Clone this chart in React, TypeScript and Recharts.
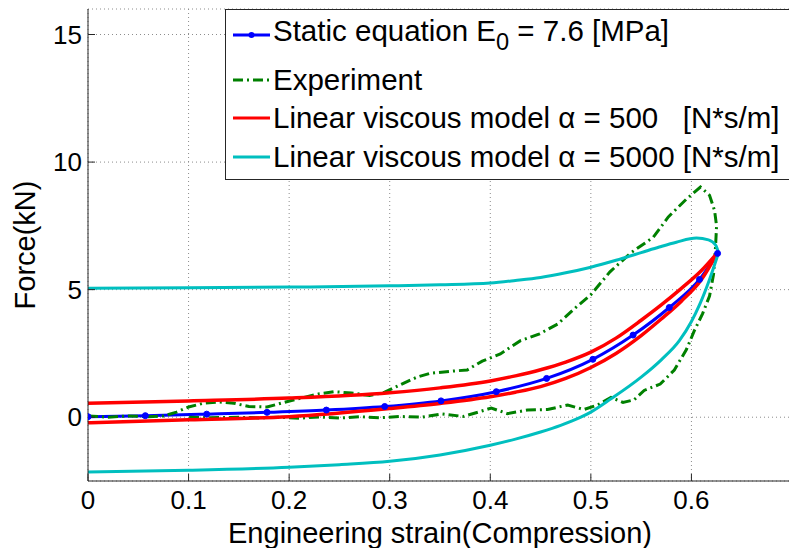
import React from 'react';
import { LineChart, Line, XAxis, YAxis, CartesianGrid } from 'recharts';

const xTicks = [0, 0.1, 0.2, 0.3, 0.4, 0.5, 0.6];
const yTicks = [0, 5, 10, 15];

// Static equation E0 = 7.6 MPa
const staticStrain = [0, 0.057, 0.118, 0.178, 0.237, 0.295, 0.351, 0.406, 0.456, 0.502, 0.542, 0.578, 0.608, 0.626];
const staticForce = [0.02, 0.06, 0.12, 0.19, 0.28, 0.42, 0.64, 1.0, 1.52, 2.27, 3.22, 4.3, 5.4, 6.42];

// Linear viscous model alpha = 500 (upper and lower branch)
const red500UpStrain = [0, 0.1, 0.2, 0.3, 0.35, 0.4, 0.425, 0.45, 0.475, 0.5, 0.525, 0.55, 0.57, 0.59, 0.61, 0.626];
const red500UpForce = [0.55, 0.64, 0.75, 0.96, 1.15, 1.42, 1.62, 1.86, 2.16, 2.55, 3.1, 3.8, 4.4, 5.05, 5.75, 6.45];
const red500DownStrain = [0, 0.1, 0.2, 0.3, 0.35, 0.4, 0.425, 0.45, 0.475, 0.5, 0.525, 0.55, 0.57, 0.59, 0.61, 0.626];
const red500DownForce = [-0.22, -0.1, 0.02, 0.34, 0.54, 0.8, 0.98, 1.2, 1.52, 1.95, 2.5, 3.2, 3.85, 4.55, 5.4, 6.45];

// Linear viscous model alpha = 5000 (upper and lower branch)
const cyan5000UpStrain = [0, 0.1, 0.2, 0.3, 0.35, 0.4, 0.425, 0.45, 0.475, 0.5, 0.525, 0.55, 0.568, 0.585, 0.605, 0.617, 0.624, 0.627];
const cyan5000UpForce = [5.05, 5.07, 5.1, 5.15, 5.19, 5.26, 5.36, 5.48, 5.66, 5.88, 6.15, 6.45, 6.67, 6.86, 7.02, 6.95, 6.75, 6.45];
const cyan5000DownStrain = [0, 0.1, 0.2, 0.25, 0.3, 0.35, 0.4, 0.425, 0.45, 0.47, 0.49, 0.5, 0.52, 0.55, 0.57, 0.588, 0.6, 0.608, 0.618, 0.627];
const cyan5000DownForce = [-2.15, -2.08, -1.96, -1.86, -1.73, -1.48, -1.1, -0.86, -0.58, -0.32, 0.0, 0.2, 0.72, 1.57, 2.25, 3.0, 3.75, 4.4, 5.4, 6.45];

// Experiment (loading then unloading, in recorded order)
const expStrain = [
  0, 0.02, 0.04, 0.06, 0.075, 0.088, 0.1, 0.115, 0.13, 0.145, 0.16, 0.178, 0.195, 0.212, 0.23, 0.245,
  0.262, 0.28, 0.295, 0.312, 0.327, 0.34, 0.36, 0.377, 0.392, 0.41, 0.43, 0.449, 0.467, 0.485, 0.5,
  0.519, 0.54, 0.562, 0.577, 0.595, 0.609, 0.618, 0.623, 0.625,
  0.624, 0.622, 0.618, 0.611, 0.603, 0.595, 0.583, 0.569, 0.553, 0.543, 0.532, 0.52, 0.507, 0.493,
  0.477, 0.457, 0.437, 0.417, 0.401, 0.388, 0.373, 0.352, 0.332, 0.31, 0.29, 0.27, 0.25, 0.23, 0.21,
  0.19, 0.17, 0.15, 0.12, 0.1,
];
const expForce = [
  0.05, 0.0, 0.05, 0.02, 0.05, 0.2, 0.4, 0.55, 0.6, 0.55, 0.42, 0.4, 0.58, 0.75, 0.92, 1.0,
  0.95, 0.85, 0.98, 1.3, 1.57, 1.72, 1.8, 1.85, 2.2, 2.48, 3.0, 3.27, 3.65, 4.3, 4.8,
  5.7, 6.45, 7.05, 7.85, 8.55, 9.02, 8.7, 8.1, 7.5,
  6.7, 5.6, 4.75, 4.05, 3.4, 2.65, 1.85, 1.3, 1.05, 0.68, 0.58, 0.78, 0.48, 0.3,
  0.48, 0.3, 0.28, 0.14, 0.36, 0.2, 0.03, 0.13, 0.0, 0.03, -0.02, 0.02, -0.03, 0.01, -0.04,
  0.0, -0.03, 0.0, -0.02, 0.0,
];

const zip = (xs: number[], ys: number[]) => xs.map((x, i) => ({ x, y: ys[i] }));

const staticData = zip(staticStrain, staticForce);
const red500Up = zip(red500UpStrain, red500UpForce);
const red500Down = zip(red500DownStrain, red500DownForce);
const cyan5000Up = zip(cyan5000UpStrain, cyan5000UpForce);
const cyan5000Down = zip(cyan5000DownStrain, cyan5000DownForce);
const expData = zip(expStrain, expForce);

const FONT = '"Liberation Sans", Arial, Helvetica, sans-serif';
const BLUE = '#0000FF';
const GREEN = '#008000';
const RED = '#FF0000';
const CYAN = '#00BFBF';
const AXIS = '#262626';
const DASHDOT = '10 4 2 4';
const LABEL_SIZE = 29;
const LEGEND_SIZE = 29.5;
const TICK_SIZE = 26;

const XLabel = (props: any) => {
  const vb = props.viewBox || { x: 88, y: 481, width: 704, height: 67 };
  const cx = vb.x + vb.width / 2;
  return (
    <text x={cx} y={vb.y + 62} textAnchor="middle" fontSize={LABEL_SIZE} fill="#000" fontFamily={FONT}>
      Engineering strain(Compression)
    </text>
  );
};

const YLabel = (props: any) => {
  const vb = props.viewBox || { x: 0, y: 9, width: 88, height: 472 };
  const cx = 35;
  const cy = vb.y + vb.height / 2;
  return (
    <text x={cx} y={cy} transform={`rotate(-90 ${cx} ${cy})`} textAnchor="middle" fontSize={LABEL_SIZE} fill="#000" fontFamily={FONT}>
      Force(kN)
    </text>
  );
};

const legendRows = [
  { key: 'static', color: BLUE, dash: undefined as string | undefined, marker: true, center: 25 },
  { key: 'exp', color: GREEN, dash: DASHDOT, marker: false, center: 70 },
  { key: 'r500', color: RED, dash: undefined, marker: false, center: 108 },
  { key: 'c5000', color: CYAN, dash: undefined, marker: false, center: 147 },
];

const legendText = (key: string) => {
  if (key === 'static') {
    return (
      <span>
        Static equation E<span style={{ fontSize: '0.8em', position: 'relative', top: '0.4em' }}>0</span> = 7.6 [MPa]
      </span>
    );
  }
  if (key === 'exp') return <span>Experiment</span>;
  if (key === 'r500') return <span style={{ whiteSpace: 'pre' }}>Linear viscous model α = 500   [N*s/m]</span>;
  return <span style={{ whiteSpace: 'pre' }}>Linear viscous model α = 5000 [N*s/m]</span>;
};

const LegendBox = () => (
  <div
    style={{
      position: 'absolute',
      left: 225,
      top: 9,
      width: 620,
      height: 171,
      border: `1px solid ${AXIS}`,
      background: '#fff',
      boxSizing: 'border-box',
      fontFamily: FONT,
      fontSize: LEGEND_SIZE,
      color: '#000',
    }}
  >
    {legendRows.map((r) => (
      <div key={r.key} style={{ position: 'absolute', left: 0, top: r.center - 17, height: 34, width: 600 }}>
        <svg width={40} height={34} style={{ position: 'absolute', left: 6, top: 0 }}>
          <line x1={1} y1={17} x2={38} y2={17} stroke={r.color} strokeWidth={3} strokeDasharray={r.dash} />
          {r.marker && <circle cx={19.5} cy={17} r={3} fill={r.color} />}
        </svg>
        <div
          style={{
            position: 'absolute',
            left: 47,
            top: r.key === 'static' ? -4 : 0,
            lineHeight: '34px',
            whiteSpace: 'pre',
          }}
        >
          {legendText(r.key)}
        </div>
      </div>
    ))}
  </div>
);

export default function App() {
  return (
    <div style={{ position: 'absolute', left: 0, top: 0, width: 789, height: 548, overflow: 'hidden', background: '#fff' }}>
      <LineChart width={800} height={548} margin={{ top: 9, right: 8, bottom: 0, left: 0 }}>
        <CartesianGrid stroke="#8c8c8c" strokeDasharray="1 3" strokeWidth={1} />
        <XAxis
          xAxisId={0}
          dataKey="x"
          type="number"
          domain={[0, 0.7]}
          allowDataOverflow
          ticks={xTicks}
          orientation="bottom"
          height={67}
          stroke={AXIS}
          tickSize={-7}
          tickMargin={17}
          tick={{ fontSize: TICK_SIZE, fill: '#000', fontFamily: FONT }}
          label={<XLabel />}
        />
        <XAxis
          xAxisId="top"
          dataKey="x"
          type="number"
          domain={[0, 0.7]}
          allowDataOverflow
          ticks={xTicks}
          orientation="top"
          height={0}
          stroke={AXIS}
          tickSize={-7}
          tick={false}
        />
        <YAxis
          yAxisId={0}
          type="number"
          domain={[-2.5, 16]}
          allowDataOverflow
          ticks={yTicks}
          width={88}
          stroke={AXIS}
          tickSize={-7}
          tickMargin={13}
          tick={{ fontSize: TICK_SIZE, fill: '#000', fontFamily: FONT }}
          label={<YLabel />}
        />
        <Line
          data={staticData}
          dataKey="y"
          type="monotone"
          stroke={BLUE}
          strokeWidth={3}
          dot={{ r: 3, fill: BLUE, stroke: BLUE, strokeWidth: 1 }}
          isAnimationActive={false}
        />
        <Line
          data={expData}
          dataKey="y"
          type="linear"
          stroke={GREEN}
          strokeWidth={3}
          strokeDasharray={DASHDOT}
          dot={false}
          isAnimationActive={false}
        />
        <Line data={red500Up} dataKey="y" type="monotone" stroke={RED} strokeWidth={3.5} dot={false} isAnimationActive={false} />
        <Line data={red500Down} dataKey="y" type="monotone" stroke={RED} strokeWidth={3.5} dot={false} isAnimationActive={false} />
        <Line data={cyan5000Up} dataKey="y" type="monotone" stroke={CYAN} strokeWidth={3} dot={false} isAnimationActive={false} />
        <Line data={cyan5000Down} dataKey="y" type="monotone" stroke={CYAN} strokeWidth={3} dot={false} isAnimationActive={false} />
      </LineChart>
      <LegendBox />
    </div>
  );
}
